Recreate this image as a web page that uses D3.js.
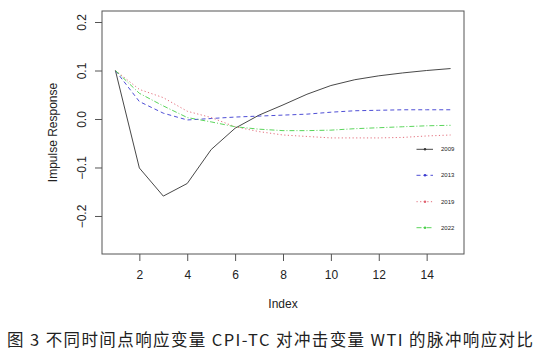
<!DOCTYPE html>
<html>
<head>
<meta charset="utf-8">
<script src="https://cdn.jsdelivr.net/npm/d3@7"></script>
<style>
  body { margin: 0; background: #fff; }
  svg { display: block; }
  text { font-family: "Liberation Sans", Arial, sans-serif; fill: #222; }
</style>
</head>
<body>
<div id="chart"></div>
<script>
// impulse response values, periods 1..15
const periods = d3.range(1, 16);
const seriesNames = ["2009", "2013", "2019", "2022"];
const resp2009 = [0.100, -0.101, -0.159, -0.133, -0.063, -0.019, 0.008, 0.029, 0.051, 0.069, 0.081, 0.089, 0.095, 0.100, 0.104];
const resp2013 = [0.100, 0.036, 0.012, -0.002, 0.001, 0.004, 0.006, 0.008, 0.010, 0.014, 0.017, 0.018, 0.019, 0.019, 0.019];
const resp2019 = [0.100, 0.061, 0.044, 0.016, 0.003, -0.016, -0.026, -0.033, -0.036, -0.039, -0.039, -0.039, -0.038, -0.035, -0.033];
const resp2022 = [0.100, 0.053, 0.027, 0.003, -0.006, -0.016, -0.021, -0.024, -0.024, -0.023, -0.020, -0.018, -0.016, -0.014, -0.013];
const xTicks = [2, 4, 6, 8, 10, 12, 14];
const yTicks = [-0.2, -0.1, 0.0, 0.1, 0.2];
const caption = "图 3 不同时间点响应变量 CPI-TC 对冲击变量 WTI 的脉冲响应对比";

const allSeries = [resp2009, resp2013, resp2019, resp2022];
const colors = ["#333333", "#3a3ad0", "#e0606e", "#48d048"];
const dashes = [null, "4,3", "1.2,2.4", "5,2,1,2"];

const W = 540, H = 354;
const plot = { left: 102, right: 464, top: 11, bottom: 254 };

const svg = d3.select("#chart").append("svg")
    .attr("width", W)
    .attr("height", H);

const x = d3.scaleLinear().domain([0.44, 15.56]).range([plot.left, plot.right]);
const y = d3.scaleLinear().domain([-0.2784, 0.2227]).range([plot.bottom, plot.top]);

// axes
svg.append("g")
    .attr("transform", "translate(0," + plot.bottom + ")")
    .call(d3.axisBottom(x).tickValues(xTicks).tickSize(7).tickPadding(9).tickFormat(d3.format("d")))
    .call(g => g.select(".domain").remove())
    .call(g => g.selectAll("line").attr("stroke", "#555"))
    .call(g => g.selectAll("text").style("font-size", "12px").attr("fill", "#222"));

const yAxis = svg.append("g")
    .attr("transform", "translate(" + plot.left + ",0)")
    .call(d3.axisLeft(y).tickValues(yTicks).tickSize(7).tickFormat(d3.format(".1f")))
    .call(g => g.select(".domain").remove())
    .call(g => g.selectAll("line").attr("stroke", "#555"));

yAxis.selectAll("text")
    .attr("x", null).attr("dy", null)
    .attr("transform", "translate(-20,0) rotate(-90)")
    .attr("text-anchor", "middle")
    .attr("dominant-baseline", "central")
    .style("font-size", "12px")
    .attr("fill", "#222");

// box
svg.append("rect")
    .attr("x", plot.left).attr("y", plot.top)
    .attr("width", plot.right - plot.left)
    .attr("height", plot.bottom - plot.top)
    .attr("fill", "none")
    .attr("stroke", "#555")
    .attr("stroke-width", 1);

// lines
const line = d3.line()
    .x((d, i) => x(periods[i]))
    .y(d => y(d));

svg.selectAll(".series")
  .data(allSeries)
  .enter().append("path")
    .attr("class", "series")
    .attr("d", d => line(d))
    .attr("fill", "none")
    .attr("stroke", (d, i) => colors[i])
    .attr("stroke-width", 0.9)
    .attr("stroke-dasharray", (d, i) => dashes[i]);

// legend
const legendY = [149.3, 175.3, 201.7, 227.7];
const leg = svg.append("g");
seriesNames.forEach((name, i) => {
  leg.append("line")
      .attr("x1", 416.5).attr("x2", 433)
      .attr("y1", legendY[i]).attr("y2", legendY[i])
      .attr("stroke", colors[i])
      .attr("stroke-width", 0.9)
      .attr("stroke-dasharray", dashes[i]);
  leg.append("circle")
      .attr("cx", 425).attr("cy", legendY[i])
      .attr("r", 1.2)
      .attr("fill", colors[i]);
  leg.append("text")
      .attr("x", 441).attr("y", legendY[i])
      .attr("dominant-baseline", "central")
      .style("font-size", "6px")
      .attr("fill", "#333")
      .text(name);
});

// axis titles
svg.append("text")
    .attr("x", (plot.left + plot.right) / 2)
    .attr("y", 304)
    .attr("text-anchor", "middle")
    .attr("dominant-baseline", "central")
    .style("font-size", "12px")
    .text("Index");

svg.append("text")
    .attr("transform", "translate(53," + ((plot.top + plot.bottom) / 2) + ") rotate(-90)")
    .attr("text-anchor", "middle")
    .attr("dominant-baseline", "central")
    .style("font-size", "12px")
    .text("Impulse Response");

// caption
svg.append("text")
    .attr("x", 7)
    .attr("y", 346)
    .attr("textLength", 526)
    .attr("lengthAdjust", "spacing")
    .style("font-family", "'Noto Sans CJK SC', sans-serif")
    .style("font-size", "16.5px")
    .attr("fill", "#111")
    .text(caption);
</script>
</body>
</html>
